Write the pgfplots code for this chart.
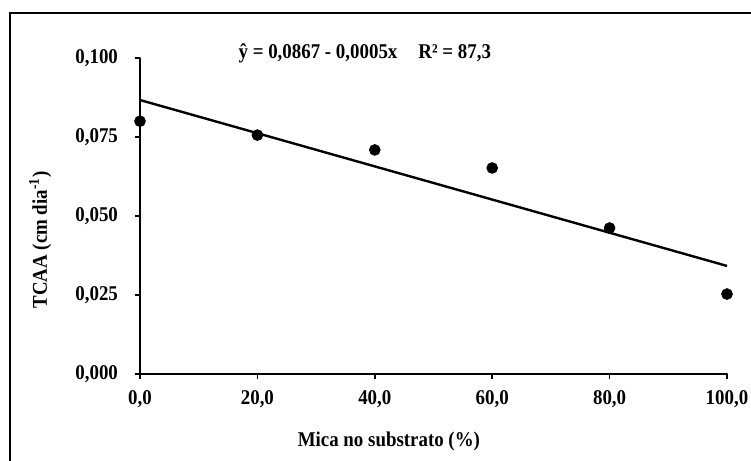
\documentclass[border=0pt]{standalone}
\usepackage{pgfplots}
\pgfplotsset{compat=1.18}
\usepackage{fontspec}
\setmainfont[FakeStretch=0.9]{Liberation Serif}
\newcommand{\chartfont}{\fontsize{10.5}{12}\selectfont\bfseries}
\begin{document}
\begin{tikzpicture}[x=1pt,y=1pt]
\useasboundingbox (0,0) rectangle (375.5,230.5);
\draw[line width=0.8pt] (5,-2) -- (5,224) -- (378,224);
\begin{axis}[
  at={(70pt,43.5pt)}, anchor=south west,
  scale only axis=true, width=293.5pt, height=158pt,
  xmin=0, xmax=100, ymin=0, ymax=0.1,
  axis x line=bottom, axis y line=left,
  axis line style={-, line width=1pt, line cap=round},
  tick align=outside, major tick length=2.5pt,
  every tick/.style={black, line width=0.8pt},
  xtick={0,20,40,60,80,100},
  ytick={0,0.025,0.05,0.075,0.1},
  scaled y ticks=false,
  /pgf/number format/assume math mode=true,
  xticklabel style={/pgf/number format/use comma, /pgf/number format/fixed, /pgf/number format/fixed zerofill, /pgf/number format/precision=1, anchor=center, yshift=-10pt},
  yticklabel style={/pgf/number format/use comma, /pgf/number format/fixed, /pgf/number format/fixed zerofill, /pgf/number format/precision=3, xshift=-5pt},
  tick label style={font=\chartfont},
  xlabel={Mica no substrato (\%)},
  ylabel={TCAA (cm dia\textsuperscript{-1})},
  label style={font=\chartfont},
  xlabel style={at={(axis description cs:0.424,0)}, anchor=center, yshift=-33.5pt},
  ylabel style={at={(axis description cs:-0.170,0.424)}, anchor=center},
  clip=false,
]
\addplot[only marks, mark=*, mark size=2.7pt, black] coordinates {
  (0,0.0800) (20,0.0756) (40,0.0709) (60,0.0652) (80,0.0462) (100,0.0253)
};
\addplot[black, line width=1.2pt] coordinates {(0,0.0867) (100,0.0342)};
\node[font=\chartfont] at (rel axis cs:0.383,1.016) {ŷ = 0,0867 - 0,0005x\quad R² = 87,3};
\end{axis}
\end{tikzpicture}
\end{document}
